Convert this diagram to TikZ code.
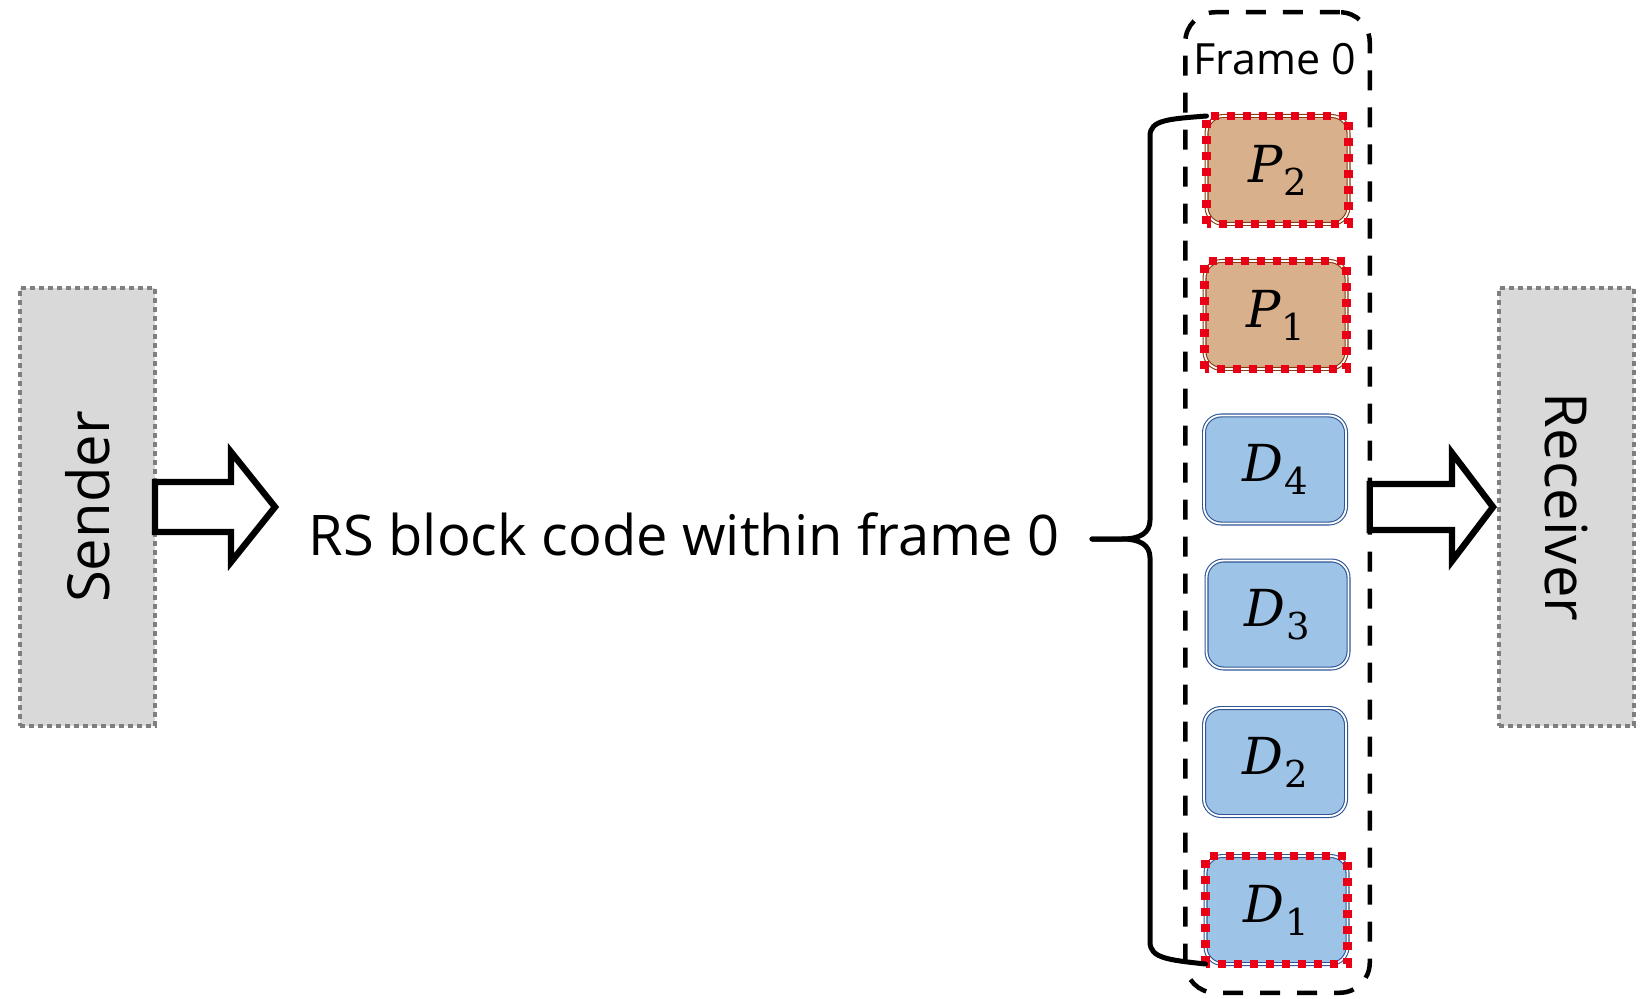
\documentclass[tikz,border=0pt]{standalone}
\usepackage{fontspec}
\setmainfont{Open Sans}
\newfontfamily\symfont{DejaVu Serif}
\usetikzlibrary{calc}

\definecolor{hostfill}{HTML}{D9D9D9}
\definecolor{hostgray}{HTML}{7F7F7F}
\definecolor{datafill}{HTML}{9DC3E6}
\definecolor{dataline}{HTML}{2F5597}
\definecolor{parfill}{RGB}{217,176,140}
\definecolor{parline}{HTML}{843C0C}
\definecolor{lossred}{RGB}{234,0,22}

% packet symbol: italic letter with a lowered index
\newcommand{\pkt}[2]{{\symfont\fontsize{25.5}{28}\selectfont\itshape #1}%
  \kern0.5pt\raisebox{-6.5pt}{\symfont\fontsize{18.5}{20}\selectfont #2}}

\begin{document}
\begin{tikzpicture}[x=0.5pt,y=-0.5pt,
  hostbox/.style={draw=hostgray, fill=hostfill, line width=2.4pt,
    dash pattern=on 2.4pt off 2.1pt, minimum width=67.5pt, minimum height=219pt,
    inner sep=0pt, outer sep=0pt, font=\fontsize{29}{32}\selectfont},
  pktbox/.style={rounded corners=8.5pt, minimum width=71pt, minimum height=54pt,
    inner sep=0pt, outer sep=0pt, line width=0.55pt, double=white,
    double distance=0.9pt},
  databox/.style={pktbox, draw=dataline, fill=datafill},
  paritybox/.style={pktbox, draw=parline, fill=parfill},
  lossmark/.style={draw=lossred, line width=4.2pt, dash pattern=on 4pt off 4pt},
  framebox/.style={draw=black, line width=2.25pt, rounded corners=15pt,
    dash pattern=on 10pt off 8.5pt, minimum width=92.25pt, minimum height=490.25pt,
    inner sep=0pt, outer sep=0pt},
  blockarrow/.style={draw=black, fill=white, line width=3.2pt, line join=miter},
  bracestyle/.style={draw=black, line width=2.5pt, line cap=round}]

\useasboundingbox (0,0) rectangle (1652,999);

% end points of the link
\node[hostbox] (sender) at (87.5,507) {\rotatebox{90}{Sender}};
\node[hostbox] (receiver) at (1566.5,507) {\rotatebox{-90}{Receiver}};

% caption of the coded block
\node[anchor=base, inner sep=0pt, font=\fontsize{28}{30}\selectfont] (code) at (684,555)
  {RS block code within frame 0};

% the frame holding the packets
\node[framebox] (frame) at (1277.5,502.5) {};
\node[anchor=base, inner sep=0pt, font=\fontsize{21.5}{24}\selectfont] (framelabel) at (1275,75) {Frame 0};

% parity and data packets
\node[paritybox] (p2) at (1277.5,170) {\pkt{P}{2}};
\node[paritybox] (p1) at (1275.5,315) {\pkt{P}{1}};
\node[databox]   (d4) at (1275,469.5) {\pkt{D}{4}};
\node[databox]   (d3) at (1277.5,614.5) {\pkt{D}{3}};
\node[databox]   (d2) at (1275,762) {\pkt{D}{2}};
\node[databox]   (d1) at (1276.5,910) {\pkt{D}{1}};

% lost packets
\foreach \n in {p2,p1,d1}
  \draw[lossmark] (\n.south west) rectangle (\n.north east);

% brace grouping the packets
\coordinate (bracetip) at (1092,539);
\draw[bracestyle] (p2.north west) .. controls (1168,119) and (1150,120) .. (1150,136)
  -- (1150,520) .. controls (1150,533) and (1140,539) .. (1122,539) -- (bracetip);
\draw[bracestyle] (d1.south west) .. controls (1168,960) and (1150,958) .. (1150,942)
  -- (1150,558) .. controls (1150,545) and (1140,539) .. (1122,539) -- (bracetip);

% block arrows
\coordinate (sendtip) at ($(sender.east)+(120,0)$);
\draw[blockarrow] ($(sender.east)+(0,-25)$) -- ($(sendtip)+(-44,-25)$)
  -- ($(sendtip)+(-44,-55)$) -- (sendtip) -- ($(sendtip)+(-44,55)$)
  -- ($(sendtip)+(-44,25)$) -- ($(sender.east)+(0,25)$) -- cycle;

\coordinate (recvtail) at (frame.east |- receiver.west);
\coordinate (recvtip) at ($(receiver.west)+(-6,0)$);
\draw[blockarrow] ($(recvtail)+(0,-23)$) -- ($(recvtip)+(-41,-23)$)
  -- ($(recvtip)+(-41,-54)$) -- (recvtip) -- ($(recvtip)+(-41,54)$)
  -- ($(recvtip)+(-41,23)$) -- ($(recvtail)+(0,23)$) -- cycle;

\end{tikzpicture}
\end{document}
